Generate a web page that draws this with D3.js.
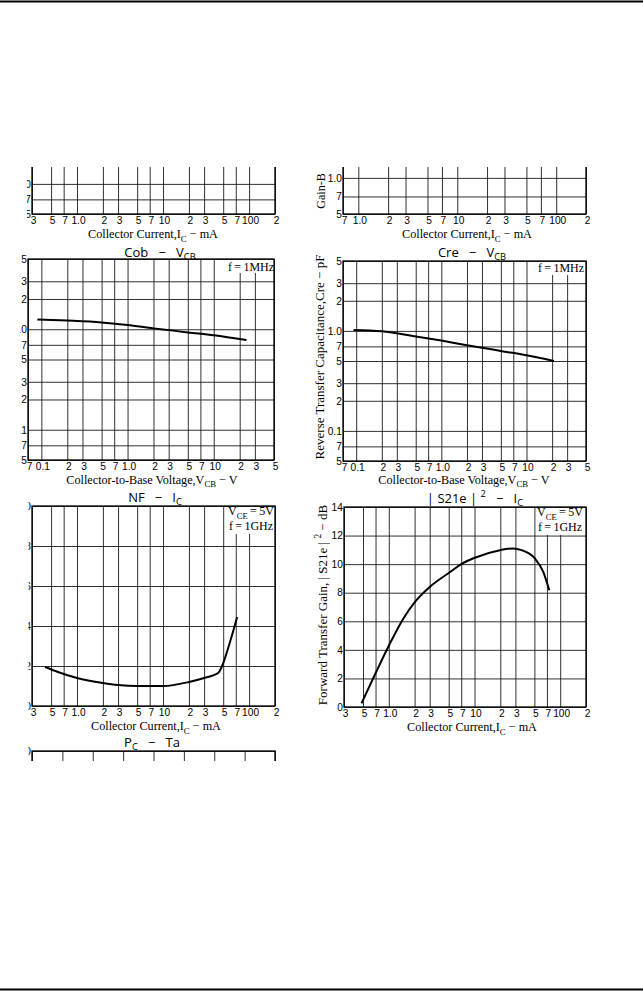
<!DOCTYPE html>
<html><head><meta charset="utf-8">
<script src="https://cdn.jsdelivr.net/npm/d3@7"></script>
<style>body{margin:0;background:#fff}svg{display:block}text{white-space:pre}</style>
</head><body>
<svg id="page" width="643" height="991"></svg>
<script>
// ---------- data ----------
const icTicksA = [0.3,0.5,0.7,1,2,3,5,7,10,20,30,50,70,100,200];
const icLabelsA = ["3","5","7","1.0","2","3","5","7","10","2","3","5","7","100","2"];
const icTicksB = [0.7,1,2,3,5,7,10,20,30,50,70,100,200];
const icLabelsB = ["7","1.0","2","3","5","7","10","2","3","5","7","100","2"];
const gainTicks = [0.5,0.7,1,2,3,5];
const gainLabels = ["5","7","1.0","2","3","5"];
const vcbTicks = [0.07,0.1,0.2,0.3,0.5,0.7,1,2,3,5,7,10,20,30,50];
const vcbLabels = ["7","0.1","2","3","5","7","1.0","2","3","5","7","10","2","3","5"];
const capTicks = [0.05,0.07,0.1,0.2,0.3,0.5,0.7,1,2,3,5];
const capLabels = ["5","7","0.1","2","3","5","7","1.0","2","3","5"];
const cobVcb = [0.09,0.2,0.5,1,2,3,5,10,24];
const cobPf  = [1.25,1.22,1.17,1.1,1.02,0.98,0.93,0.87,0.78];
const creVcb = [0.093,0.2,0.5,1,2,3,5,10,21];
const crePf  = [1.02,0.99,0.88,0.8,0.72,0.68,0.63,0.57,0.5];
const nfTicks = [0,2,4,6,8,10];
const nfIc = [0.425,0.6,1,2,3,5,7,10,20,30,43.6,48,60,72.6];
const nfDb = [1.95,1.7,1.4,1.15,1.05,1.0,1.0,1.0,1.2,1.4,1.65,1.95,3.2,4.45];
const s21Ticks = [0,2,4,6,8,10,12,14];
const s21Ic = [0.48,0.7,1.01,1.48,2.02,3.0,5.2,7.0,10.1,19.8,28.3,35.4,50.6,63.4,74.5];
const s21Db = [0.25,2.36,4.34,6.2,7.36,8.4,9.45,10.0,10.45,10.98,11.1,10.98,10.4,9.46,8.18];
const taTicks = [0,20,40,60,80,100,120,140,160];
const pcTicks = [0,40,80,120,160,200];

// ---------- helpers ----------
const svg = d3.select("#page");
const defs = svg.append("defs");
let cid = 0;
function clip(x,y,w,h){const id="clip"+(cid++);defs.append("clipPath").attr("id",id).append("rect").attr("x",x).attr("y",y).attr("width",w).attr("height",h);return `url(#${id})`;}
const TICKFONT = "'Liberation Sans Narrow','Arial Narrow','Liberation Sans',sans-serif";
const SERIF = "'Liberation Serif','Times New Roman',serif";
const TITLEFONT = "'Open Sans','DejaVu Sans',sans-serif";

function rich(t, parts, base){
  let shift=0;
  parts.forEach(p=>{
    const [txt,k]=p;
    const ts=t.append("tspan").text(txt);
    const target = k==="sub"? base*0.3 : k==="sup"? -base*0.45 : 0;
    if(target-shift!==0) ts.attr("dy", target-shift);
    shift=target;
    if(k) ts.attr("font-size", base*0.72);
  });
  return t;
}

function axes(g, x, y, xt, xl, yt, yl){
  const [x0,x1]=x.range(), [yb,ytop]=y.range();
  const xa=d3.axisBottom(x).tickValues(xt).tickFormat((d,i)=>xl[i]).tickSize(-(yb-ytop)).tickPadding(2.5);
  const ya=d3.axisLeft(y).tickValues(yt).tickFormat((d,i)=>yl[i]).tickSize(-(x1-x0)).tickPadding(1.2);
  const gx=g.append("g").attr("transform",`translate(0,${yb})`).call(xa);
  const gy=g.append("g").attr("transform",`translate(${x0},0)`).call(ya);
  [gx,gy].forEach(a=>{
    a.select(".domain").remove();
    a.selectAll("line").attr("stroke","#1a1a1a").attr("stroke-width",0.9);
    a.selectAll("text").attr("font-family",TICKFONT).attr("font-size",10.2).attr("fill","#000");
  });
  gx.selectAll("text").attr("dx",1);
  g.append("rect").attr("x",x0).attr("y",ytop).attr("width",x1-x0).attr("height",yb-ytop)
   .attr("fill","none").attr("stroke","#000").attr("stroke-width",1.3);
}

function curve(g, x, y, xs, ys){
  g.append("path").datum(d3.zip(xs,ys)).attr("fill","none").attr("stroke","#000").attr("stroke-width",2)
   .attr("d", d3.line().x(d=>x(d[0])).y(d=>y(d[1])).curve(d3.curveMonotoneX));
}

function note(g, cx, lines, box){
  g.append("rect").attr("x",box[0]).attr("y",box[1]).attr("width",box[2]).attr("height",box[3]).attr("fill","#fff");
  lines.forEach(([yy,parts])=>{
    const t=g.append("text").attr("x",cx).attr("y",yy).attr("text-anchor","middle")
      .attr("font-family",SERIF).attr("font-size",12);
    rich(t,parts,12);
  });
}
function title(cx, cy, parts){
  const t=svg.append("text").attr("x",cx).attr("y",cy).attr("text-anchor","middle")
    .attr("font-family",TITLEFONT).attr("font-size",13).attr("fill","#000").attr("dy","0.35em");
  rich(t,parts,13);
}
function xlabel(cx, cy, parts){
  const t=svg.append("text").attr("x",cx).attr("y",cy).attr("text-anchor","middle")
    .attr("font-family",SERIF).attr("font-size",12.2).attr("dy","0.35em");
  rich(t,parts,12.2);
}
function ylabel(cx, cy, parts, fs){
  const t=svg.append("text").attr("transform",`translate(${cx},${cy}) rotate(-90)`).attr("text-anchor","middle")
    .attr("font-family",SERIF).attr("font-size",fs).attr("dy","0.35em");
  rich(t,parts,fs);
}
const icLabelParts = [["Collector Current,I"],["C","sub"],[" − mA"]];
const vcbLabelParts = [["Collector-to-Base Voltage,V"],["CB","sub"],[" − V"]];
const fMHz = [["f\u2009=\u20091MHz"]];
const fGHz = [["f\u2009=\u20091GHz"]];
const vce = [["V"],["CE","sub"],["\u2009=\u20095V"]];

// page rules
svg.append("line").attr("x1",0).attr("x2",643).attr("y1",1.5).attr("y2",1.5).attr("stroke","#000").attr("stroke-width",2);
svg.append("line").attr("x1",0).attr("x2",643).attr("y1",989.5).attr("y2",989.5).attr("stroke","#000").attr("stroke-width",2);

// ---------- A: top-left partial ----------
{
  const g=svg.append("g").attr("clip-path",clip(27,167,260,70));
  const x=d3.scaleLog().domain([0.3,200]).range([32,275]);
  const y=d3.scaleLog().domain([0.5,5]).range([214,114]);
  axes(g,x,y,icTicksA,icLabelsA,gainTicks,gainLabels);
  xlabel(153,234,icLabelParts);
}
// ---------- B: top-right partial ----------
{
  const g=svg.append("g").attr("clip-path",clip(300,167,300,70));
  const x=d3.scaleLog().domain([0.7,200]).range([343,586]);
  const y=d3.scaleLog().domain([0.5,5]).range([214,94]);
  axes(g,x,y,icTicksB,icLabelsB,gainTicks,gainLabels);
  ylabel(321,191,[["Gain-B"]],12);
  xlabel(467,234,icLabelParts);
}
// ---------- C: Cob ----------
{
  title(160,252,[["Cob   −   V"],["CB","sub"]]);
  const g=svg.append("g").attr("clip-path",clip(20,240,270,240));
  const x=d3.scaleLog().domain([0.07,50]).range([28,274]);
  const y=d3.scaleLog().domain([0.05,5]).range([460,259]);
  axes(g,x,y,vcbTicks,vcbLabels,capTicks,capLabels);
  curve(g,x,y,cobVcb,cobPf);
  note(g,251,[[271,fMHz]],[228,260,45,13]);
  xlabel(152,479.5,vcbLabelParts);
}
// ---------- D: Cre ----------
{
  title(472,252,[["Cre   −   V"],["CB","sub"]]);
  const g=svg.append("g");
  const x=d3.scaleLog().domain([0.07,50]).range([343,586]);
  const y=d3.scaleLog().domain([0.05,5]).range([461,261]);
  axes(g,x,y,vcbTicks,vcbLabels,capTicks,capLabels);
  curve(g,x,y,creVcb,crePf);
  note(g,561,[[272,fMHz]],[537,262,47,13]);
  ylabel(319,357,[["Reverse Transfer Capacitance,Cre − pF"]],13);
  xlabel(464,479.5,vcbLabelParts);
}
// ---------- E: NF ----------
{
  title(155,497,[["NF   −   I"],["C","sub"]]);
  const g=svg.append("g").attr("clip-path",clip(28.5,495,260,230));
  const x=d3.scaleLog().domain([0.3,200]).range([32,275]);
  const y=d3.scaleLinear().domain([0,10]).range([706,506]);
  axes(g,x,y,icTicksA,icLabelsA,nfTicks,nfTicks.map(String));
  curve(g,x,y,nfIc,nfDb);
  note(g,251,[[515,vce],[530,fGHz]],[228,507,46,27]);
  xlabel(156,726,icLabelParts);
}
// ---------- F: |S21e|^2 ----------
{
  title(475,498,[["| S21e | "],["2","sup"],["   −   I"],["C","sub"]]);
  const g=svg.append("g");
  const x=d3.scaleLog().domain([0.3,200]).range([344,586]);
  const y=d3.scaleLinear().domain([0,14]).range([707,507]);
  axes(g,x,y,icTicksA,icLabelsA,s21Ticks,s21Ticks.map(String));
  curve(g,x,y,s21Ic,s21Db);
  note(g,560,[[516,vce],[531,fGHz]],[536,508,49,27]);
  ylabel(322,605,[["Forward Transfer Gain, | S21e | "],["2","sup"],[" − dB"]],13);
  xlabel(472,727,icLabelParts);
}
// ---------- G: Pc - Ta (partial) ----------
{
  title(152,742,[["P"],["C","sub"],["   −   Ta"]]);
  const g=svg.append("g").attr("clip-path",clip(28.5,745,260,16));
  const x=d3.scaleLinear().domain([0,160]).range([32,275]);
  const y=d3.scaleLinear().domain([0,200]).range([951,751]);
  axes(g,x,y,taTicks,taTicks.map(String),pcTicks,pcTicks.map(String));
}
</script>
</body></html>
